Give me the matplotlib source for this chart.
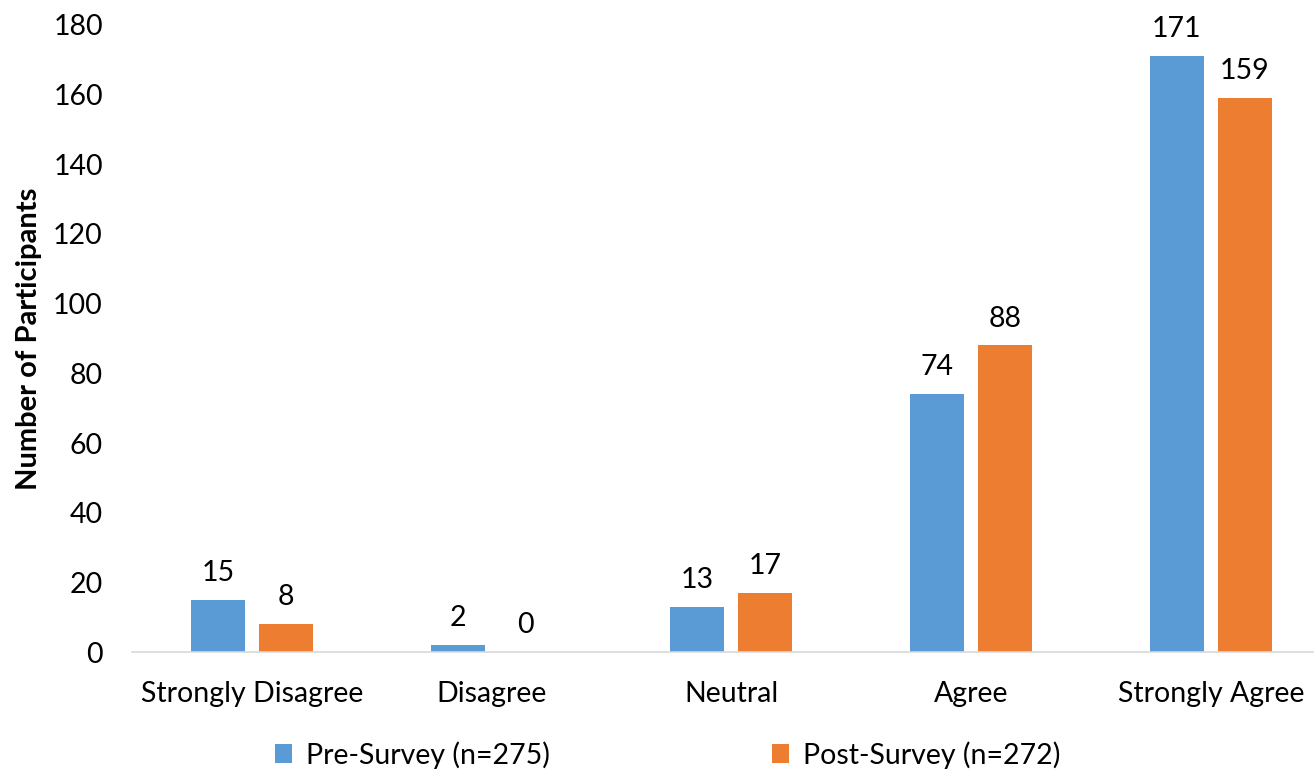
import matplotlib.pyplot as plt
import numpy as np

plt.rcParams['font.family'] = ['Lato', 'DejaVu Sans']

categories = ["Strongly Disagree", "Disagree", "Neutral", "Agree", "Strongly Agree"]
pre_survey = [15, 2, 13, 74, 171]
post_survey = [8, 0, 17, 88, 159]
yticks = [0, 20, 40, 60, 80, 100, 120, 140, 160, 180]

blue = "#5B9BD5"
orange = "#ED7D31"
fs = 20.5

fig = plt.figure(figsize=(13.14, 7.71), dpi=100)
ax = fig.add_axes([0.1005, 0.1543, 0.8995, 0.8133])

x = np.arange(len(categories))
w = 0.225
off = 0.142
b1 = ax.bar(x - off, pre_survey, w, color=blue, label="Pre-Survey (n=275)")
b2 = ax.bar(x + off, post_survey, w, color=orange, label="Post-Survey (n=272)")

for bars in (b1, b2):
    for rect in bars:
        h = rect.get_height()
        ax.annotate(f"{h:g}", (rect.get_x() + rect.get_width() / 2, h),
                    xytext=(0, 10), textcoords="offset points",
                    ha="center", va="bottom", fontsize=fs)

ax.set_xlim(-0.5, 4.43)
ax.set_ylim(0, 180)
ax.set_yticks(yticks)
ax.set_xticks(x)
ax.set_xticklabels(categories)
ax.tick_params(axis="both", length=0, labelsize=fs)
ax.tick_params(axis="x", pad=21)
ax.tick_params(axis="y", pad=21)
for s in ["top", "right", "left"]:
    ax.spines[s].set_visible(False)
ax.spines["bottom"].set_color("#D9D9D9")
ax.spines["bottom"].set_linewidth(1.2)

ax.set_ylabel("Number of Participants", fontsize=21, fontweight="bold", labelpad=8)

fig.legend(loc="lower center", bbox_to_anchor=(0.508, -0.03), ncol=2, frameon=False,
           fontsize=fs, handlelength=0.6, handleheight=0.6, columnspacing=7.8, handletextpad=0.5)

fig.savefig("out.png", dpi=100)
